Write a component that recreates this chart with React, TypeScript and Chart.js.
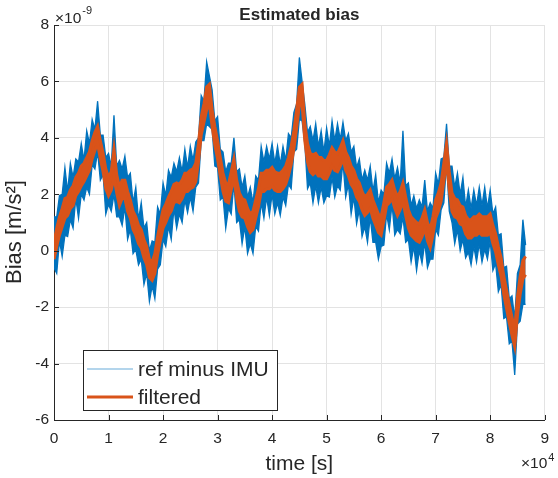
import React, { useEffect, useRef } from "react";
import { Chart, registerables } from "chart.js";

Chart.register(...registerables);

// ---- text ----
const TITLE = "Estimated bias";
const X_LABEL = "time [s]";
const Y_LABEL = "Bias [m/s²]";
const X_EXPONENT = "4"; // x tick labels shown in units of 10^4 s
const Y_EXPONENT = "-9"; // y values given in units of 10^-9 m/s²
const SERIES_NAMES = ["ref minus IMU", "filtered"];

// ---- axes ----
const X_TICK_VALUES = [0, 10000, 20000, 30000, 40000, 50000, 60000, 70000, 80000, 90000];
const Y_TICK_VALUES = [-6, -4, -2, 0, 2, 4, 6, 8];

// ---- data: dense noisy traces read as upper / lower envelopes,
// sampled every 500 s, values in 1e-9 m/s² ----
const SAMPLE_STEP_S = 500;

const refMinusImuUpper = [
  1.2, 1.2, 1.95, 2.0, 2.95, 2.1, 3.1, 2.6, 3.25, 3.15,
  3.8, 3.2, 4.25, 3.8, 4.65, 4.3, 5.3, 4.1, 4.1, 3.3,
  3.45, 3.0, 4.8, 3.0, 3.2, 2.9, 3.35, 2.6, 2.75, 1.7,
  2.25, 1.1, 1.7, 0.8, 1.0, 0.0, 0.35, 0.3, 1.55, 1.3,
  2.4, 1.95, 2.85, 2.6, 3.1, 2.8, 3.3, 2.8, 3.6, 2.95,
  3.7, 3.2, 3.85, 4.0, 5.5, 5.3, 6.7, 6.2, 5.7, 4.6,
  4.75, 3.6, 3.5, 2.8, 3.1, 3.1, 4.0, 2.8, 2.9, 2.25,
  2.65, 1.9, 2.25, 1.7, 2.65, 2.5, 3.7, 3.15, 3.7, 3.25,
  3.8, 3.1, 3.7, 3.05, 3.7, 3.2, 4.15, 4.0, 4.9, 5.2,
  6.85, 6.0, 5.2, 4.2, 4.4, 3.9, 4.5, 3.7, 4.25, 3.5,
  4.35, 3.7, 4.6, 3.9, 4.5, 3.95, 4.55, 3.9, 4.15, 3.5,
  3.7, 2.95, 3.25, 2.5, 2.85, 2.5, 3.0, 2.1, 2.7, 1.7,
  2.15, 2.0, 3.1, 2.75, 3.25, 2.55, 2.95, 2.4, 4.25, 2.3,
  2.4, 1.6, 1.95, 1.5, 1.8, 1.55, 2.5, 1.4, 1.7, 1.5,
  2.75, 2.35, 3.25, 3.3, 4.5, 3.0, 3.0, 2.25, 2.75, 2.0,
  2.6, 1.55, 2.15, 1.5, 2.15, 1.6, 2.25, 1.6, 2.25, 1.5,
  2.15, 1.3, 1.55, 0.55, 0.6, -0.6, -0.55, -1.7, -1.6, -2.4,
  -0.8, -0.5, 1.1, 0.2,
];

const refMinusImuLower = [
  -0.6, -0.8, 0.35, -0.2, 0.55, 0.5, 1.1, 0.8, 1.85, 1.15,
  2.0, 1.8, 2.25, 2.0, 3.05, 2.9, 3.5, 2.5, 2.7, 1.3,
  1.65, 1.4, 2.0, 1.2, 1.2, 0.9, 1.55, 0.4, 0.75, -0.1,
  0.05, -0.5, -0.3, -1.2, -0.8, -1.8, -1.25, -1.7, -0.65, -0.5,
  0.4, 0.15, 0.85, 0.4, 1.5, 0.8, 1.3, 1.0, 1.8, 1.35,
  1.9, 1.4, 2.25, 2.4, 3.9, 3.9, 4.5, 4.4, 4.3, 3.0,
  2.95, 1.8, 1.9, 0.8, 1.5, 1.3, 2.4, 1.0, 1.1, 0.25,
  0.85, -0.1, 0.25, -0.1, 0.85, 0.7, 1.7, 1.15, 1.9, 1.25,
  2.0, 1.3, 1.7, 1.25, 1.9, 1.6, 2.35, 2.2, 3.5, 3.6,
  4.65, 4.6, 3.8, 2.2, 2.4, 1.7, 2.3, 1.7, 2.25, 1.7,
  1.95, 1.9, 2.6, 1.9, 2.3, 2.15, 3.15, 1.9, 2.35, 1.3,
  1.9, 0.95, 1.45, 0.5, 0.85, 0.3, 1.2, 0.3, 0.3, -0.3,
  0.15, 0.2, 1.3, 0.75, 1.65, 0.55, 0.75, 0.6, 1.2, 0.3,
  0.4, -0.4, 0.15, -0.7, 0.0, -0.45, 0.3, -0.6, -0.3, -0.3,
  0.75, 0.55, 1.45, 1.7, 3.1, 1.4, 1.0, 0.25, 0.75, 0.0,
  0.4, -0.25, -0.05, -0.5, 0.15, -0.4, 0.25, -0.4, 0.05, -0.3,
  0.35, -0.7, -0.45, -1.45, -1.2, -2.4, -2.35, -3.3, -3.2, -4.4,
  -2.6, -2.5, -1.9, -1.9,
];

const filteredUpper = [
  0.3, 0.8, 1.2, 1.5, 1.85, 1.9, 2.15, 2.3, 2.6, 2.75,
  3.0, 3.1, 3.3, 3.5, 3.9, 4.2, 4.4, 3.9, 3.45, 2.9,
  2.6, 2.8, 3.6, 2.7, 2.25, 2.5, 2.5, 2.1, 1.8, 1.4,
  1.2, 0.9, 0.75, 0.4, 0.15, -0.3, -0.4, -0.1, 0.5, 1.0,
  1.45, 1.65, 1.9, 2.1, 2.35, 2.4, 2.35, 2.5, 2.75, 2.75,
  2.85, 2.9, 3.1, 3.8, 4.75, 5.2, 5.8, 5.9, 5.0, 4.4,
  3.9, 3.3, 2.75, 2.4, 2.35, 2.8, 3.25, 2.5, 2.05, 1.85,
  1.8, 1.5, 1.3, 1.4, 1.8, 2.2, 2.75, 2.75, 2.85, 2.85,
  2.95, 2.8, 2.75, 2.75, 2.85, 3.0, 3.3, 3.7, 4.25, 5.0,
  5.8, 5.9, 4.5, 3.8, 3.45, 3.4, 3.45, 3.3, 3.3, 3.2,
  3.2, 3.4, 3.65, 3.5, 3.45, 3.65, 3.9, 3.5, 3.3, 3.0,
  2.85, 2.55, 2.4, 2.1, 1.9, 2.0, 2.15, 1.8, 1.55, 1.3,
  1.2, 1.7, 2.25, 2.35, 2.5, 2.15, 1.9, 2.1, 2.4, 1.9,
  1.45, 1.2, 1.1, 1.0, 0.95, 1.15, 1.45, 1.0, 0.75, 1.2,
  1.8, 2.05, 2.4, 3.1, 3.8, 2.8, 2.05, 1.85, 1.8, 1.6,
  1.55, 1.25, 1.1, 1.1, 1.2, 1.2, 1.3, 1.2, 1.2, 1.2,
  1.3, 0.9, 0.6, 0.15, -0.25, -0.9, -1.4, -1.9, -2.35, -2.8,
  -1.65, -0.9, -0.35, -0.2,
];

const filteredLower = [
  -0.3, 0.15, 0.55, 0.85, 1.15, 1.25, 1.5, 1.6, 1.95, 2.1,
  2.3, 2.45, 2.65, 2.85, 3.25, 3.55, 3.8, 3.25, 2.8, 2.2,
  1.95, 2.15, 2.6, 2.05, 1.6, 1.85, 1.85, 1.4, 1.15, 0.75,
  0.55, 0.25, 0.1, -0.25, -0.5, -0.95, -1.05, -0.8, -0.15, 0.35,
  0.8, 1.0, 1.25, 1.4, 1.7, 1.75, 1.7, 1.85, 2.1, 2.1,
  2.2, 2.25, 2.45, 3.15, 4.1, 4.55, 5.0, 5.2, 4.4, 3.75,
  3.25, 2.65, 2.1, 1.75, 1.7, 2.15, 2.6, 1.85, 1.4, 1.2,
  1.15, 0.85, 0.65, 0.75, 1.15, 1.55, 2.1, 2.1, 2.2, 2.2,
  2.3, 2.15, 2.1, 2.1, 2.2, 2.35, 2.65, 3.05, 3.6, 4.35,
  5.15, 5.2, 3.9, 3.15, 2.8, 2.7, 2.8, 2.65, 2.65, 2.55,
  2.55, 2.75, 3.0, 2.85, 2.8, 3.0, 3.25, 2.85, 2.65, 2.35,
  2.2, 1.9, 1.75, 1.45, 1.25, 1.35, 1.5, 1.15, 0.9, 0.65,
  0.55, 1.05, 1.6, 1.7, 1.85, 1.5, 1.25, 1.45, 1.75, 1.25,
  0.8, 0.55, 0.45, 0.35, 0.3, 0.5, 0.8, 0.35, 0.1, 0.55,
  1.15, 1.4, 1.75, 2.45, 3.2, 2.15, 1.4, 1.2, 1.15, 0.95,
  0.9, 0.6, 0.45, 0.45, 0.55, 0.55, 0.65, 0.55, 0.55, 0.55,
  0.65, 0.25, -0.05, -0.5, -0.9, -1.55, -2.05, -2.55, -3.0, -3.4,
  -2.3, -1.55, -1.0, -0.85,
];

const BLUE = "#0072BD";
const ORANGE = "#D95319";
const TEXT = "#262626";
const GRID = "#e3e3e3";
const FONT = "'Liberation Sans', Arial, Helvetica, sans-serif";

const toPoints = (vals: number[]) => vals.map((v, i) => ({ x: i * SAMPLE_STEP_S, y: v }));

const decorPlugin = {
  id: "decor",
  afterDraw(chart: any) {
    const ctx: CanvasRenderingContext2D = chart.ctx;
    const { left, right, bottom } = chart.chartArea;
    const xs = chart.scales.x;
    const ys = chart.scales.y;
    ctx.save();

    // inward tick marks
    ctx.strokeStyle = TEXT;
    ctx.lineWidth = 1;
    ctx.beginPath();
    xs.ticks.forEach((t: any) => {
      const px = Math.round(xs.getPixelForValue(t.value)) + 0.5;
      ctx.moveTo(px, bottom);
      ctx.lineTo(px, bottom - 5);
    });
    ys.ticks.forEach((t: any) => {
      const py = Math.round(ys.getPixelForValue(t.value)) + 0.5;
      ctx.moveTo(left, py);
      ctx.lineTo(left + 5, py);
    });
    ctx.stroke();

    ctx.fillStyle = TEXT;

    // title
    ctx.font = `bold 17px ${FONT}`;
    ctx.textAlign = "center";
    ctx.textBaseline = "alphabetic";
    ctx.fillText(TITLE, (left + right) / 2, 19.5);

    // x label
    ctx.font = `21px ${FONT}`;
    ctx.fillText(X_LABEL, (left + right) / 2, 470);

    // y label
    ctx.save();
    ctx.translate(21, 232);
    ctx.rotate(-Math.PI / 2);
    ctx.font = `22px ${FONT}`;
    ctx.textAlign = "center";
    ctx.fillText(Y_LABEL, 0, 0);
    ctx.restore();

    // exponent labels
    ctx.textAlign = "left";
    ctx.font = `15.5px ${FONT}`;
    ctx.fillText("×10", left + 1, 23);
    let w = ctx.measureText("×10").width;
    ctx.font = `11px ${FONT}`;
    ctx.fillText(Y_EXPONENT, left + 2 + w, 14);

    ctx.font = `15.5px ${FONT}`;
    ctx.fillText("×10", 521, 468);
    w = ctx.measureText("×10").width;
    ctx.font = `11px ${FONT}`;
    ctx.fillText(X_EXPONENT, 522 + w, 461);

    // legend
    const lx = 83, ly = 350, lw = 194, lh = 60;
    ctx.fillStyle = "#ffffff";
    ctx.fillRect(lx, ly, lw, lh);
    ctx.strokeStyle = TEXT;
    ctx.lineWidth = 1;
    ctx.strokeRect(lx + 0.5, ly + 0.5, lw, lh);
    const rows = [369, 397];
    const entries = [
      { name: SERIES_NAMES[0], color: "rgba(0,114,189,0.4)", width: 1.5 },
      { name: SERIES_NAMES[1], color: ORANGE, width: 3 },
    ];
    entries.forEach((e, i) => {
      const y = rows[i];
      ctx.beginPath();
      ctx.strokeStyle = e.color;
      ctx.lineWidth = e.width;
      ctx.moveTo(87, y);
      ctx.lineTo(133, y);
      ctx.stroke();
      ctx.fillStyle = TEXT;
      ctx.font = `21px ${FONT}`;
      ctx.textAlign = "left";
      ctx.textBaseline = "middle";
      ctx.fillText(e.name, 138, y + 1);
    });

    ctx.restore();
  },
};

export default function App() {
  const ref = useRef<HTMLCanvasElement | null>(null);

  useEffect(() => {
    if (!ref.current) return;
    Chart.defaults.font.family = FONT;
    const common = { pointRadius: 0, tension: 0 };
    const chart = new Chart(ref.current, {
      type: "line",
      data: {
        datasets: [
          {
            ...common,
            label: SERIES_NAMES[0],
            data: toPoints(refMinusImuUpper),
            borderColor: BLUE,
            backgroundColor: BLUE,
            borderWidth: 1.3,
            fill: "+1",
            order: 4,
          },
          {
            ...common,
            label: SERIES_NAMES[0] + " (lower)",
            data: toPoints(refMinusImuLower),
            borderColor: BLUE,
            backgroundColor: BLUE,
            borderWidth: 1.3,
            fill: false,
            order: 3,
          },
          {
            ...common,
            label: SERIES_NAMES[1],
            data: toPoints(filteredUpper),
            borderColor: ORANGE,
            backgroundColor: ORANGE,
            borderWidth: 3,
            fill: "+1",
            order: 2,
          },
          {
            ...common,
            label: SERIES_NAMES[1] + " (lower)",
            data: toPoints(filteredLower),
            borderColor: ORANGE,
            backgroundColor: ORANGE,
            borderWidth: 3,
            fill: false,
            order: 1,
          },
        ],
      },
      options: {
        animation: false,
        responsive: false,
        devicePixelRatio: 1,
        layout: { padding: { top: 25, right: 2, left: 0, bottom: 0 } },
        plugins: { legend: { display: false }, tooltip: { enabled: false }, title: { display: false } },
        scales: {
          x: {
            type: "linear",
            min: X_TICK_VALUES[0],
            max: X_TICK_VALUES[X_TICK_VALUES.length - 1],
            afterBuildTicks: (s: any) => {
              s.ticks = X_TICK_VALUES.map((v) => ({ value: v }));
            },
            afterFit: (s: any) => {
              s.height = 58;
            },
            ticks: {
              callback: (v: any) => String(Number(v) / 1e4),
              color: TEXT,
              font: { size: 15.5, family: FONT },
              padding: 9,
              maxRotation: 0,
              autoSkip: false,
            },
            grid: { color: GRID, drawTicks: false },
            border: { color: TEXT, width: 1 },
          },
          y: {
            type: "linear",
            min: Y_TICK_VALUES[0],
            max: Y_TICK_VALUES[Y_TICK_VALUES.length - 1],
            afterBuildTicks: (s: any) => {
              s.ticks = Y_TICK_VALUES.map((v) => ({ value: v }));
            },
            afterFit: (s: any) => {
              s.width = 54;
            },
            ticks: {
              color: TEXT,
              font: { size: 15.5, family: FONT },
              padding: 5,
              autoSkip: false,
            },
            grid: { color: GRID, drawTicks: false },
            border: { color: TEXT, width: 1 },
          },
        },
      },
      plugins: [decorPlugin],
    });
    return () => chart.destroy();
  }, []);

  return (
    <div style={{ position: "absolute", left: 0, top: 0, width: 558, height: 478, background: "#fff" }}>
      <canvas ref={ref} width={558} height={478} style={{ display: "block" }} />
    </div>
  );
}
